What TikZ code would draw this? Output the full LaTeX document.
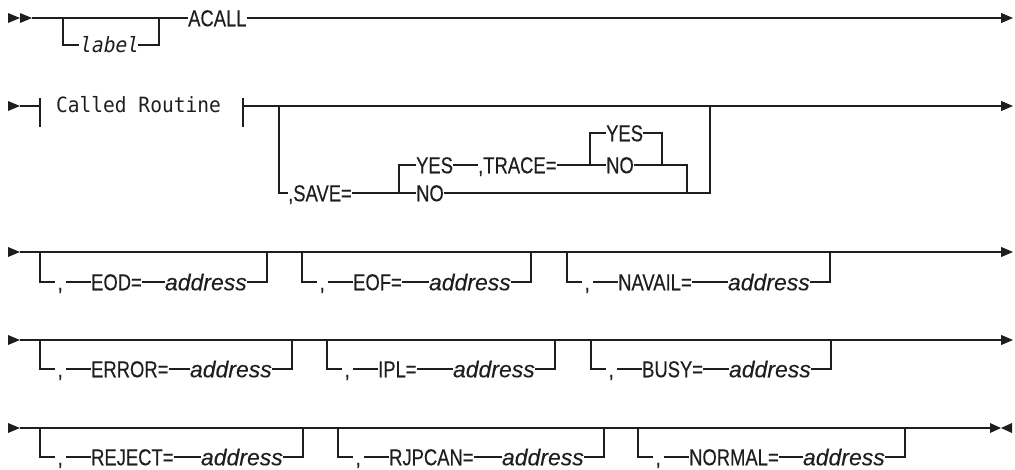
\documentclass[tikz,border=0pt]{standalone}
\usepackage{fontspec}
\usetikzlibrary{arrows.meta}
\definecolor{ink}{HTML}{1E1E1E}
\newfontfamily\kwfam[FakeStretch=0.8,FakeBold=0.3]{Liberation Sans}
\newfontfamily\adfam[FakeBold=0.25]{Liberation Sans}
\newfontfamily\mofam[FakeStretch=0.93]{DejaVu Sans Mono}
\newfontfamily\mofamsl[FakeStretch=0.93,FakeSlant=0.2]{DejaVu Sans Mono}
\tikzset{
 ln/.style={draw=ink, line width=1.2pt},
 endarr/.style={ln, -{Triangle[length=12pt,width=10pt]}},
 kw/.style={inner sep=0pt, anchor=west, text=ink, font=\kwfam\fontsize{23}{23}\selectfont, text height=16.5pt, text depth=0pt},
 commanode/.style={kw, inner xsep=2.5pt},
 ad/.style={kw, font=\adfam\itshape\fontsize{23}{23}\selectfont},
 mono/.style={kw, font=\mofam\fontsize{21}{21}\selectfont, text height=15.3pt},
 monosl/.style={mono, font=\mofamsl\fontsize{21}{21}\selectfont},
 tri/.style={fill=ink, draw=none}
}
% optional branch: id, left x, right x, main y, branch y, keyword
\newcommand\optb[6]{%
 \coordinate (#1a) at (#2,#4);
 \coordinate (#1z) at (#3,#4);
 \node[commanode] (#1c) at (#2+15,#5) {,};
 \node[kw] (#1k) at (#2+51,#5) {#6};
 \node[ad,anchor=east] (#1d) at (#3-20,#5) {address};
 \draw[ln] (#1a) |- (#1c.west);
 \draw[ln] (#1c.east) -- (#1k.west);
 \draw[ln] (#1k.east) -- (#1d.west);
 \draw[ln] (#1d.east) -| (#1z);
}
\begin{document}
\begin{tikzpicture}[x=1pt,y=-1pt]
\useasboundingbox (0,0) rectangle (1015,469);
% ---------- row 1
\fill[tri] (8,13) -- (20,18) -- (8,23) -- cycle;
\fill[tri] (20,13) -- (32,18) -- (20,23) -- cycle;
\coordinate (r1s) at (32,18);
\coordinate (r1e) at (1013,18);
\node[kw] (acall) at (188,18) {ACALL};
\draw[ln] (r1s) -- (acall.west);
\draw[endarr] (acall.east) -- (r1e);
\coordinate (lba) at (63,18);
\coordinate (lbz) at (159,18);
\node[monosl] (label) at (79,45) {label};
\draw[ln] (lba) |- (label.west);
\draw[ln] (label.east) -| (lbz);
% ---------- row 2
\fill[tri] (8,101) -- (20,106) -- (8,111) -- cycle;
\coordinate (r2s) at (20,106);
\coordinate (b1) at (40,106);
\coordinate (b1t) at (40,98);
\coordinate (b1b) at (40,127);
\draw[ln] (r2s) -- (b1);
\draw[ln] (b1t) -- (b1b);
\node[mono] (called) at (56,105) {Called Routine};
\coordinate (b2) at (243,106);
\coordinate (b2t) at (243,98);
\coordinate (b2b) at (243,127);
\draw[ln] (b2t) -- (b2b);
\coordinate (r2e) at (1013,106);
\draw[endarr] (b2) -- (r2e);
% SAVE / TRACE
\coordinate (sva) at (279,106);
\coordinate (svz) at (710,106);
\node[kw] (save) at (288,193) {,SAVE=};
\coordinate (s1) at (399,193);
\node[kw] (syes) at (416,165) {YES};
\node[kw] (sno) at (416,193) {NO};
\node[kw] (trace) at (478,165) {,TRACE=};
\coordinate (s2) at (590,165);
\node[kw] (tyes) at (606,133) {YES};
\node[kw] (tno) at (606,165) {NO};
\coordinate (tj) at (662,165);
\coordinate (sj) at (687,193);
\draw[ln] (sva) |- (save.west);
\draw[ln] (save.east) -- (s1) -- (sno.west);
\draw[ln] (s1) |- (syes.west);
\draw[ln] (syes.east) -- (trace.west);
\draw[ln] (trace.east) -- (s2) -- (tno.west);
\draw[ln] (s2) |- (tyes.west);
\draw[ln] (tyes.east) -| (tj);
\draw[ln] (tno.east) -| (sj);
\draw[ln] (sno.east) -- (sj) -| (svz);
% ---------- row 3
\fill[tri] (8,247) -- (20,252) -- (8,257) -- cycle;
\coordinate (r3s) at (20,252);
\coordinate (r3e) at (1013,252);
\draw[endarr] (r3s) -- (r3e);
\optb{a}{40}{267}{252}{282}{EOD=}
\optb{b}{302}{531}{252}{282}{EOF=}
\optb{c}{567}{830}{252}{282}{NAVAIL=}
% ---------- row 4
\fill[tri] (8,335) -- (20,340) -- (8,345) -- cycle;
\coordinate (r4s) at (20,340);
\coordinate (r4e) at (1013,340);
\draw[endarr] (r4s) -- (r4e);
\optb{d}{40}{292}{340}{369}{ERROR=}
\optb{e}{327}{555}{340}{369}{IPL=}
\optb{f}{591}{831}{340}{369}{BUSY=}
% ---------- row 5
\fill[tri] (8,423) -- (20,428) -- (8,433) -- cycle;
\coordinate (r5s) at (20,428);
\coordinate (r5e) at (990,428);
\draw[ln] (r5s) -- (r5e);
\fill[tri] (990,423) -- (1001,428) -- (990,433) -- cycle;
\fill[tri] (1012,423) -- (1001,428) -- (1012,433) -- cycle;
\optb{g}{40}{303}{428}{457}{REJECT=}
\optb{h}{338}{604}{428}{457}{RJPCAN=}
\optb{i}{638}{905}{428}{457}{NORMAL=}
\coordinate (thk1) at (911,428);
\coordinate (thk2) at (934,428);
\draw[draw=ink, line width=2.4pt] (thk1) -- (thk2);
\end{tikzpicture}
\end{document}
